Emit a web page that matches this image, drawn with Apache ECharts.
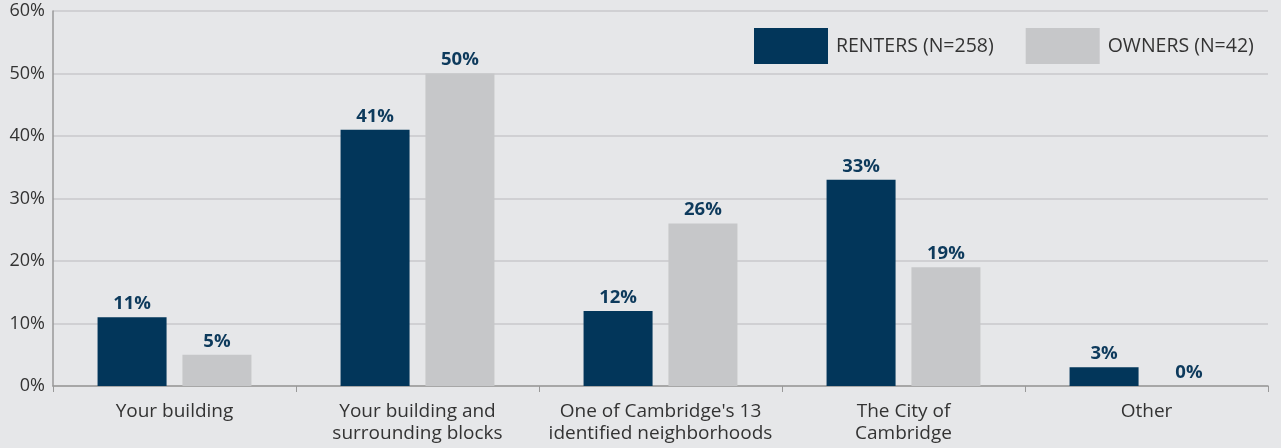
<!DOCTYPE html>
<html>
  <head>
    <meta charset="UTF-8" />
    <title>Renters vs owners</title>
    <style>
      html, body { margin: 0; padding: 0; background: #e6e7e9; }
      #chart { width: 1281px; height: 448px; }
    </style>
    <script src="https://cdn.jsdelivr.net/npm/echarts@6/dist/echarts.min.js"></script>
  </head>
  <body>
    <div id="chart"></div>
    <script>
      var categories = [
        "Your building",
        "Your building and\nsurrounding blocks",
        "One of Cambridge's 13\nidentified neighborhoods",
        "The City of\nCambridge",
        "Other"
      ];
      var renters = [11, 41, 12, 33, 3];
      var owners = [5, 50, 26, 19, 0];
      var yTicks = [0, 10, 20, 30, 40, 50, 60];

      var myChart = echarts.init(document.getElementById("chart"));
      var font = "Open Sans";

      function valueLabel() {
        return {
          show: true,
          position: "top",
          formatter: "{c}%",
          color: "#0d3a5c",
          fontWeight: "bold",
          fontSize: 18.5,
          fontFamily: font,
          distance: 4
        };
      }

      var option = {
        backgroundColor: "#e6e7e9",
        animation: false,
        grid: { left: 53, right: 13, top: 11, bottom: 62 },
        legend: {
          left: 749,
          top: 23,
          itemWidth: 74,
          itemHeight: 36,
          itemGap: 32,
          icon: "rect",
          textStyle: { color: "#333", fontSize: 19.5, fontFamily: font, padding: [0, 0, 0, 3] },
          data: ["RENTERS (N=258)", "OWNERS (N=42)"]
        },
        xAxis: {
          type: "category",
          data: categories,
          axisLine: { lineStyle: { color: "#999", width: 1.5 } },
          axisTick: { show: true, length: 6, lineStyle: { color: "#999" } },
          axisLabel: {
            color: "#333",
            fontSize: 19,
            fontFamily: font,
            lineHeight: 22,
            margin: 15,
            interval: 0
          }
        },
        yAxis: {
          type: "value",
          min: yTicks[0],
          max: yTicks[yTicks.length - 1],
          interval: 10,
          axisLine: { show: true, lineStyle: { color: "#999", width: 1.5 } },
          axisTick: { show: false },
          axisLabel: {
            color: "#333",
            fontSize: 18,
            fontFamily: font,
            margin: 8,
            formatter: "{value}%"
          },
          splitLine: { lineStyle: { color: "#c8c9cb", width: 1.5 } }
        },
        series: [
          {
            name: "RENTERS (N=258)",
            type: "bar",
            data: renters,
            barWidth: 69,
            barGap: "23%",
            itemStyle: { color: "#02365a" },
            label: valueLabel()
          },
          {
            name: "OWNERS (N=42)",
            type: "bar",
            data: owners,
            barWidth: 69,
            itemStyle: { color: "#c6c7c9" },
            label: valueLabel()
          }
        ]
      };

      myChart.setOption(option);
    </script>
  </body>
</html>
